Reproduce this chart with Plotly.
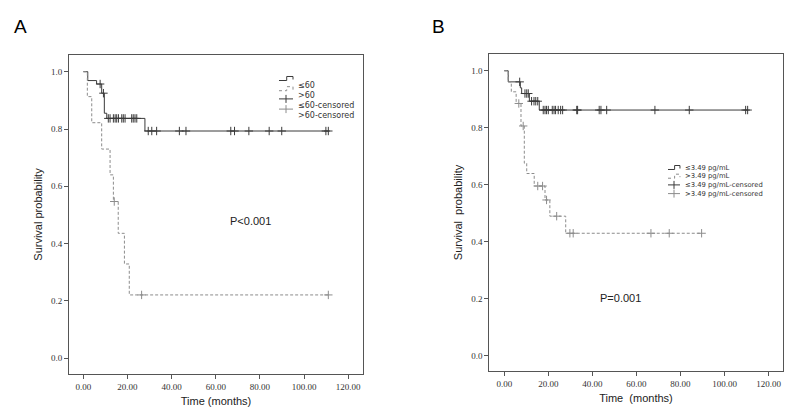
import numpy as np
import plotly.graph_objects as go

# Panel A: age groups (<=60 vs >60)
a_low_t = [0, 2.0, 6.0, 8.3, 9.5, 10.6, 27.9, 111.0]
a_low_s = [1.0, 0.969, 0.957, 0.925, 0.855, 0.837, 0.793, 0.793]
a_low_cens = [7.6, 9.1, 11.3, 12.1, 13.6, 14.4, 15.1, 15.9, 17.4, 18.1, 18.9, 21.9,
              22.6, 23.4, 24.2, 29.4, 31.0, 33.2, 43.5, 46.5, 66.8, 68.5, 75.0, 84.2,
              89.9, 109.9, 111.0]
a_high_t = [0, 1.8, 3.8, 8.3, 12.1, 13.6, 15.8, 18.6, 20.8, 111.0]
a_high_s = [1.0, 0.913, 0.822, 0.730, 0.640, 0.547, 0.436, 0.329, 0.221, 0.221]
a_high_cens = [14.0, 26.4, 111.0]

# Panel B: marker level (<=3.49 vs >3.49 pg/mL)
b_low_t = [0, 1.8, 7.3, 7.9, 11.4, 15.9, 110.5]
b_low_s = [1.0, 0.961, 0.94, 0.92, 0.893, 0.862, 0.862]
b_low_cens = [7.0, 9.4, 10.2, 10.9, 12.4, 13.5, 14.3, 15.2, 17.7, 18.5, 19.2, 20.0,
              21.8, 22.6, 23.3, 24.5, 25.6, 26.5, 32.9, 33.3, 43.1, 43.9, 46.5, 68.4,
              84.0, 109.6, 110.5]
b_high_t = [0, 1.8, 3.2, 5.4, 7.6, 9.1, 10.2, 13.6, 18.5, 20.7, 27.9, 89.6]
b_high_s = [1.0, 0.961, 0.926, 0.885, 0.806, 0.675, 0.639, 0.595, 0.546, 0.489, 0.429, 0.429]
b_high_cens = [6.6, 8.6, 15.2, 17.4, 19.2, 23.8, 29.8, 31.3, 66.6, 74.9, 89.6]

x_ticks = [0, 20, 40, 60, 80, 100, 120]
y_ticks = [0.0, 0.2, 0.4, 0.6, 0.8, 1.0]

DARK = "#3a3a3a"
LIGHT = "#8c8c8c"
TICKFONT = dict(family="Liberation Serif", size=9, color="#333")
TITLEFONT = dict(family="Liberation Sans", size=11, color="#222")


def surv_at(times, surv, t):
    idx = np.searchsorted(np.array(times), np.array(t), side="right") - 1
    return list(np.array(surv)[idx])


fig = go.Figure()


def add_group(t, s, cens, color, dash, xa, ya):
    fig.add_trace(go.Scatter(x=t, y=s, mode="lines", line_shape="hv",
                             line=dict(color=color, width=1, dash=dash),
                             xaxis=xa, yaxis=ya, showlegend=False, hoverinfo="skip"))
    fig.add_trace(go.Scatter(x=cens, y=surv_at(t, s, cens), mode="markers",
                             marker=dict(symbol="cross-thin", size=6,
                                         line=dict(color=color, width=1)),
                             xaxis=xa, yaxis=ya, showlegend=False, hoverinfo="skip"))


add_group(a_low_t, a_low_s, a_low_cens, DARK, "solid", "x", "y")
add_group(a_high_t, a_high_s, a_high_cens, LIGHT, "3px,2px", "x", "y")
add_group(b_low_t, b_low_s, b_low_cens, DARK, "solid", "x2", "y2")
add_group(b_high_t, b_high_s, b_high_cens, LIGHT, "3px,2px", "x2", "y2")

axis_common = dict(showline=True, linecolor="#555", linewidth=1, mirror=True,
                   showgrid=False, zeroline=False, ticks="outside", ticklen=4,
                   tickcolor="#555", tickfont=TICKFONT, automargin=False)

fig.update_layout(
    width=787, height=411,
    margin=dict(l=0, r=0, t=0, b=0),
    paper_bgcolor="white", plot_bgcolor="white",
    xaxis=dict(domain=[0.0877, 0.4612], range=[-6.5, 126.7], tickvals=x_ticks,
               ticktext=["%.2f" % v for v in x_ticks], anchor="y",
               title=dict(text="Time (months)", font=TITLEFONT, standoff=6),
               **axis_common),
    yaxis=dict(domain=[0.090, 0.866], range=[-0.055, 1.058], tickvals=y_ticks,
               ticktext=["%.1f" % v for v in y_ticks], anchor="x",
               title=dict(text="Survival probability", font=TITLEFONT, standoff=6),
               **axis_common),
    xaxis2=dict(domain=[0.6217, 0.9945], range=[-6.8, 126.4], tickvals=x_ticks,
                ticktext=["%.2f" % v for v in x_ticks], anchor="y2",
                title=dict(text="Time  (months)", font=TITLEFONT, standoff=6),
                **axis_common),
    yaxis2=dict(domain=[0.098, 0.868], range=[-0.054, 1.058], tickvals=y_ticks,
                ticktext=["%.1f" % v for v in y_ticks], anchor="x2",
                title=dict(text="Survival  probability", font=TITLEFONT, standoff=6),
                **axis_common),
)

# panel letters and p-values
fig.add_annotation(text="A", x=12 / 787, y=1 - 14 / 411, xref="paper", yref="paper",
                   showarrow=False, font=dict(family="Liberation Sans", size=19, color="black"))
fig.add_annotation(text="B", x=438 / 787, y=1 - 14 / 411, xref="paper", yref="paper",
                   showarrow=False, font=dict(family="Liberation Sans", size=19, color="black"))
fig.add_annotation(text="P<0.001", x=75.6, y=0.48, xref="x", yref="y", showarrow=False,
                   font=dict(family="Liberation Sans", size=11, color="#222"))
fig.add_annotation(text="P=0.001", x=53, y=0.20, xref="x2", yref="y2", showarrow=False,
                   font=dict(family="Liberation Sans", size=11, color="#222"))


# hand-drawn legends (SPSS style, tight rows)
def draw_legend(x0, y0, labels, gap, fsize, w):
    styles = [(DARK, "solid", False), (LIGHT, "dot", False), (DARK, "solid", True), (LIGHT, "solid", True)]
    for i, (lab, (col, dash, cross)) in enumerate(zip(labels, styles)):
        yy = y0 + i * gap
        if cross:
            fig.add_shape(type="line", xref="paper", yref="paper",
                          x0=x0 / 787, x1=(x0 + w) / 787, y0=1 - yy / 411, y1=1 - yy / 411,
                          line=dict(color=col, width=1))
            fig.add_shape(type="line", xref="paper", yref="paper",
                          x0=(x0 + w / 2) / 787, x1=(x0 + w / 2) / 787,
                          y0=1 - (yy - 4) / 411, y1=1 - (yy + 4) / 411,
                          line=dict(color=col, width=1))
        else:
            pts = [(x0, yy + 2), (x0 + w * 0.55, yy + 2), (x0 + w * 0.55, yy - 2),
                   (x0 + w, yy - 2), (x0 + w, yy + 1)]
            path = "M " + " L ".join("%.4f,%.4f" % (px / 787, 1 - py / 411) for px, py in pts)
            fig.add_shape(type="path", path=path, xref="paper", yref="paper",
                          line=dict(color=col, width=1, dash=dash))
        fig.add_annotation(text=lab, x=(x0 + w + 3) / 787, y=1 - yy / 411, xref="paper",
                           yref="paper", xanchor="left", showarrow=False,
                           font=dict(family="DejaVu Sans", size=fsize, color="#333"))


draw_legend(279, 78.5, ["≤60", ">60", "≤60-censored", ">60-censored"], 10.2, 8, 14)
draw_legend(668, 167.5, ["≤3.49 pg/mL", ">3.49 pg/mL", "≤3.49 pg/mL-censored",
                         ">3.49 pg/mL-censored"], 8.7, 6.8, 12)

# drop the browser's default body margin so the figure sits at the window origin
fig.write_html("out.html", config={"displayModeBar": False},
               post_script="document.body.style.margin='0';")
